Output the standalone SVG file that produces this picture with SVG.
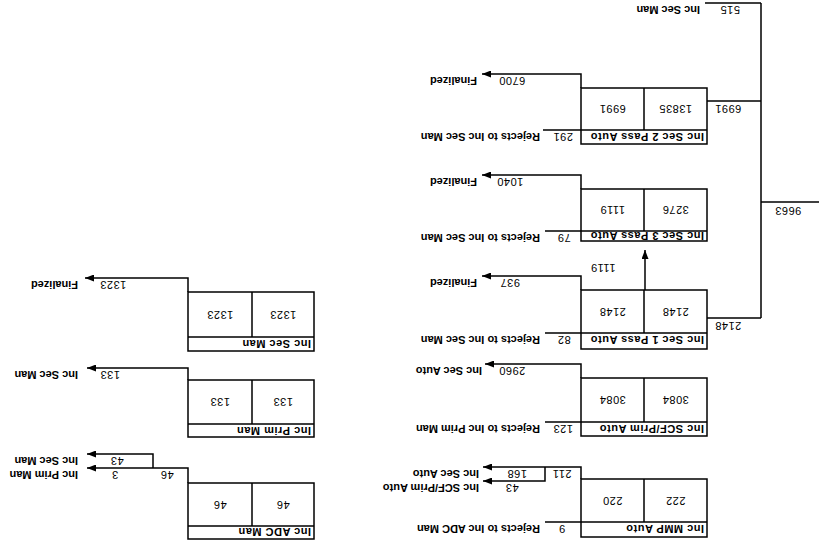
<svg xmlns="http://www.w3.org/2000/svg" width="819" height="548" viewBox="0 0 819 548">
<style>
.bx{fill:#fff;stroke:#000;stroke-width:1.5}
.ln{fill:none;stroke:#000;stroke-width:1.5}
.ar{marker-end:url(#ah)}
text{font-family:"Liberation Sans",Arial,sans-serif;font-size:11px;fill:#000}
.n{text-anchor:middle;letter-spacing:0.5px}
.l{font-weight:bold}
.ti{font-weight:bold;letter-spacing:0.5px}
</style>
<defs>
<marker id="ah" markerUnits="userSpaceOnUse" markerWidth="9" markerHeight="7" refX="9" refY="3.5" orient="auto"><path d="M0,0 L9,3.5 L0,7 z" fill="#000"/></marker>
</defs>
<rect x="0" y="0" width="819" height="548" fill="#fff"/>
<g transform="rotate(180 409.5 274)">
<g id="n-mmp">
<rect class="bx" x="112" y="11" width="126" height="58"/>
<path class="ln" d="M112,26 H238 M175,26 V69"/>
<text class="ti" x="115" y="23">Inc MMP Auto</text>
<text class="n" x="143.5" y="51.5">222</text>
<text class="n" x="206.5" y="51.5">220</text>
</g>
<g id="n-scf">
<rect class="bx" x="112" y="112" width="126" height="58"/>
<path class="ln" d="M112,126 H238 M175,126 V170"/>
<text class="ti" x="115" y="123">Inc SCF/Prim Auto</text>
<text class="n" x="143.5" y="152">3084</text>
<text class="n" x="206.5" y="152">3084</text>
</g>
<g id="n-sec1">
<rect class="bx" x="112" y="199" width="126" height="59"/>
<path class="ln" d="M112,215 H238 M175,215 V258"/>
<text class="ti" x="115" y="212">Inc Sec 1 Pass Auto</text>
<text class="n" x="143.5" y="240.5">2148</text>
<text class="n" x="206.5" y="240.5">2148</text>
</g>
<g id="n-sec3">
<rect class="bx" x="112" y="307" width="126" height="52"/>
<path class="ln" d="M112,317 H238 M175,317 V359"/>
<text class="ti" x="115" y="316">Inc Sec 3 Pass Auto</text>
<text class="n" x="143.5" y="342">3276</text>
<text class="n" x="206.5" y="342">1119</text>
</g>
<g id="n-sec2">
<rect class="bx" x="112" y="404" width="126" height="56"/>
<path class="ln" d="M112,418 H238 M175,418 V460"/>
<text class="ti" x="115" y="415">Inc Sec 2 Pass Auto</text>
<text class="n" x="143.5" y="443">13835</text>
<text class="n" x="206.5" y="443">6991</text>
</g>
<g id="n-adc">
<rect class="bx" x="505" y="9" width="126" height="56"/>
<path class="ln" d="M505,22 H631 M567,22 V65"/>
<text class="ti" x="508" y="20">Inc ADC Man</text>
<text class="n" x="536" y="47.5">46</text>
<text class="n" x="599" y="47.5">46</text>
</g>
<g id="n-prim">
<rect class="bx" x="505" y="111" width="126" height="57"/>
<path class="ln" d="M505,124 H631 M567,124 V168"/>
<text class="ti" x="508" y="121">Inc Prim Man</text>
<text class="n" x="536" y="150">133</text>
<text class="n" x="599" y="150">133</text>
</g>
<g id="n-secman">
<rect class="bx" x="505" y="197" width="126" height="59"/>
<path class="ln" d="M505,211 H631 M567,211 V256"/>
<text class="ti" x="508" y="208">Inc Sec Man</text>
<text class="n" x="536" y="237.5">1323</text>
<text class="n" x="599" y="237.5">1323</text>
</g>
<g id="connectors">
<path class="ln" d="M0,346 H58 M58,230 V545 M58,230 H112 M58,447 H112 M58,545 H114"/>
<path class="ln ar" d="M238,460 V474 H337"/>
<path class="ln ar" d="M238,359 V373 H337"/>
<path class="ln ar" d="M238,258 V272 H337"/>
<path class="ln ar" d="M238,170 V184 H334"/>
<path class="ln ar" d="M238,69 V81 H336"/>
<path class="ln ar" d="M274,81 V67 H336"/>
<path class="ln ar" d="M174,258 V298"/>
<path class="ln" d="M238,418 H276 M238,317 H274 M238,215 H274 M238,126 H274 M238,26 H274"/>
<path class="ln ar" d="M631,256 V270 H734"/>
<path class="ln ar" d="M631,168 V180 H732"/>
<path class="ln ar" d="M631,65 V80 H732"/>
<path class="ln ar" d="M666,80 V94 H732"/>
<text class="n" x="31" y="341">9663</text>
<text class="n" x="91" y="226">2148</text>
<text class="n" x="91" y="443">6991</text>
<text class="n" x="89" y="542">515</text>
<text class="l" x="119" y="542">Inc Sec Man</text>
<text class="n" x="307" y="471">6700</text>
<text class="l" x="342" y="471">Finalized</text>
<text class="n" x="309" y="370">1040</text>
<text class="l" x="342" y="370">Finalized</text>
<text class="n" x="309" y="269">937</text>
<text class="l" x="342" y="269">Finalized</text>
<text class="n" x="307" y="181">2960</text>
<text class="l" x="337" y="181">Inc Sec Auto</text>
<text class="n" x="257" y="78">211</text>
<text class="n" x="302" y="78">168</text>
<text class="l" x="340" y="78">Inc Sec Auto</text>
<text class="n" x="307" y="64">43</text>
<text class="l" x="340" y="64">Inc SCF/Prim Auto</text>
<text class="n" x="216" y="284">1119</text>
<text class="n" x="256" y="415">291</text>
<text class="l" x="279" y="415">Rejects to Inc Sec Man</text>
<text class="n" x="255" y="314">79</text>
<text class="l" x="279" y="314">Rejects to Inc Sec Man</text>
<text class="n" x="255" y="212">82</text>
<text class="l" x="279" y="212">Rejects to Inc Sec Man</text>
<text class="n" x="256" y="123">123</text>
<text class="l" x="279" y="123">Rejects to Inc Prim Man</text>
<text class="n" x="257" y="23">9</text>
<text class="l" x="279" y="23">Rejects to Inc ADC Man</text>
<text class="n" x="706" y="267">1323</text>
<text class="l" x="741" y="267">Finalized</text>
<text class="n" x="709" y="177">133</text>
<text class="l" x="741" y="177">Inc Sec Man</text>
<text class="n" x="652" y="77">46</text>
<text class="n" x="704" y="77">3</text>
<text class="l" x="741" y="77">Inc Prim Man</text>
<text class="n" x="702" y="91">43</text>
<text class="l" x="741" y="91">Inc Sec Man</text>
</g>
</g>
</svg>
